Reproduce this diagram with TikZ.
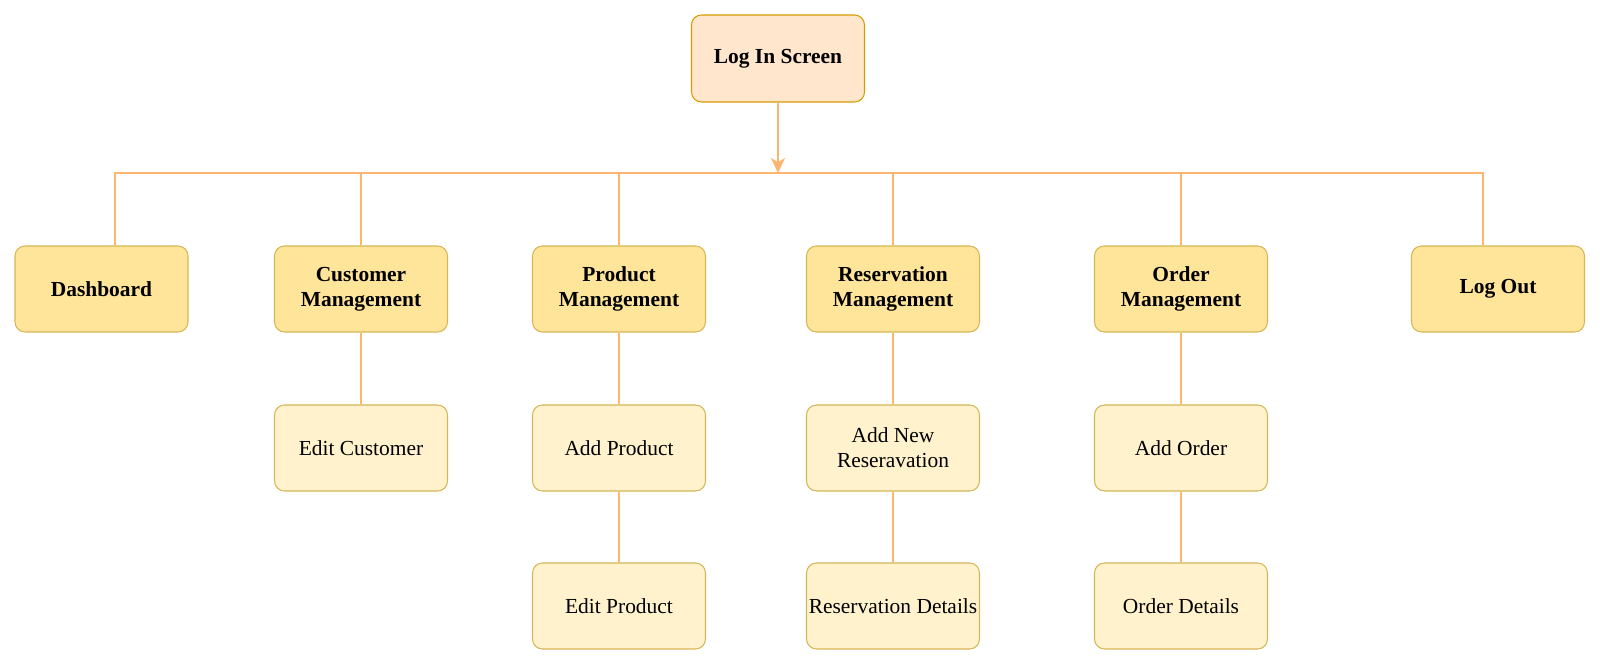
\documentclass[tikz,border=0pt]{standalone}
\usepackage{fontspec}
\setmainfont{Liberation Serif}
\usetikzlibrary{arrows.meta}

\definecolor{loginfill}{HTML}{FFE6CC}
\definecolor{logindraw}{HTML}{D79B00}
\definecolor{mainfill}{HTML}{FFE599}
\definecolor{subfill}{HTML}{FFF2CC}
\definecolor{boxdraw}{HTML}{D6B656}
\definecolor{linkcol}{HTML}{FFB570}

\tikzset{
  screen/.style={rectangle,rounded corners=0.2cm,line width=0.6pt,
    minimum width=3.46cm,minimum height=1.72cm,align=center,inner xsep=0pt,
    font=\fontsize{12.2}{14.4}\selectfont},
  link/.style={draw=linkcol,line width=0.6pt}
}

\begin{document}
\begin{tikzpicture}

        \useasboundingbox (0,0) rectangle (32,-13.32);

        \node[screen,fill=loginfill,draw=logindraw,minimum height=1.74cm,font=\fontsize{12.2}{14.4}\selectfont\bfseries]
          (login) at (15.56,-1.17) {Log In Screen};
        \coordinate (bus) at (15.56,-3.46);

        \begin{scope}[every node/.style={screen,fill=mainfill,draw=boxdraw,font=\fontsize{12.2}{14.4}\selectfont\bfseries}]
          \node (dash)   at (2.03,-5.78)  {Dashboard};
          \node (cust)   at (7.22,-5.78)  {Customer\\Management};
          \node (prod)   at (12.38,-5.78) {Product\\Management};
          \node (res)    at (17.86,-5.78) {Reservation\\Management};
          \node (ord)    at (23.62,-5.78) {Order\\Management};
          \node (logout) at (29.96,-5.78) {Log Out};
        \end{scope}

        \begin{scope}[every node/.style={screen,fill=subfill,draw=boxdraw}]
          \node (editcust) at (7.22,-8.96)   {Edit Customer};
          \node (addprod)  at (12.38,-8.96)  {Add Product};
          \node (editprod) at (12.38,-12.12) {Edit Product};
          \node (addres)   at (17.86,-8.96)  {Add New\\Reseravation};
          \node (resdet)   at (17.86,-12.12) {Reservation Details};
          \node (addord)   at (23.62,-8.96)  {Add Order};
          \node (orddet)   at (23.62,-12.12) {Order Details};
        \end{scope}

        % bus from the log in screen
        \draw[link,-{Stealth[length=0.3cm,width=0.28cm,inset=0.08cm]}] (login) -- (bus);
        \draw[link] (bus) -| ([xshift=0.27cm]dash.north);
        \draw[link] (bus) -| (cust.north);
        \draw[link] (bus) -| (prod.north);
        \draw[link] (bus) -| (res.north);
        \draw[link] (bus) -| (ord.north);
        \draw[link] (bus) -| ([xshift=-0.3cm]logout.north);

        \begin{scope}[every edge/.style={link}]
          \path (cust)    edge (editcust);
          \path (prod)    edge (addprod);
          \path (addprod) edge (editprod);
          \path (res)     edge (addres);
          \path (addres)  edge (resdet);
          \path (ord)     edge (addord);
          \path (addord)  edge (orddet);
        \end{scope}

      \end{tikzpicture}
\end{document}
